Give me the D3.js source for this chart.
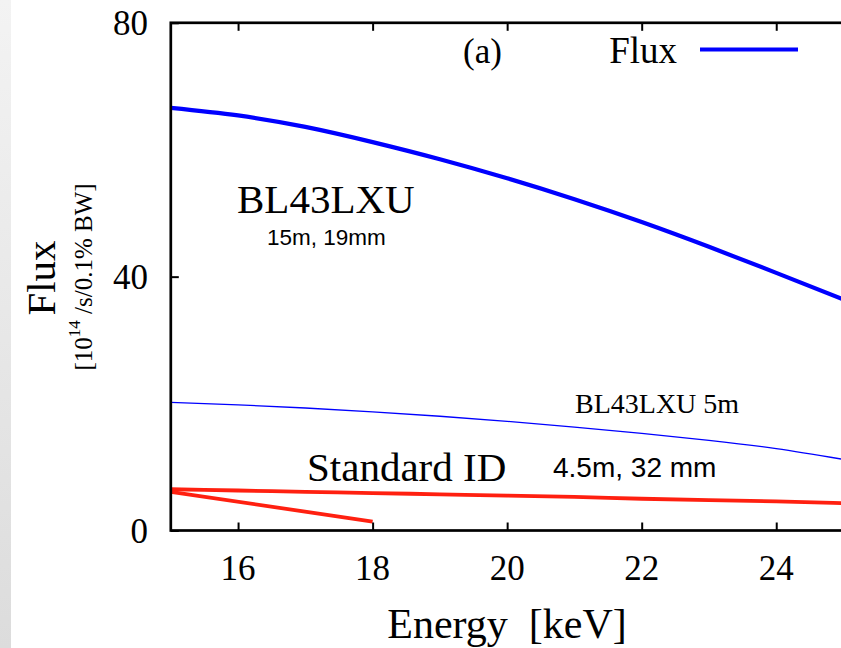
<!DOCTYPE html>
<html>
<head>
<meta charset="utf-8">
<script src="https://cdn.jsdelivr.net/npm/d3@7"></script>
<style>
  html, body { margin: 0; padding: 0; background: #fff; }
  svg { display: block; }
</style>
</head>
<body>
<svg id="chart" width="841" height="648"></svg>
<script>
// Photon energy grid [keV]
const energy = [15, 16, 17, 18, 19, 20, 21, 22, 23, 24, 25];
// Flux [10^14 /s/0.1% BW]
const fluxLXU15m = [66.6, 65.4, 63.6, 61.2, 58.5, 55.5, 52.2, 48.6, 44.7, 40.6, 36.4];
const fluxLXU5m  = [20.2, 19.8, 19.3, 18.7, 18.0, 17.2, 16.3, 15.3, 14.2, 12.9, 11.2];
const fluxStdID  = [6.5, 6.3, 6.1, 5.9, 5.7, 5.5, 5.3, 5.0, 4.8, 4.6, 4.3];
// Short standard-ID curve (15–18 keV)
const energyStdShort = [15, 18];
const fluxStdShort   = [6.1, 1.4];

const xTicks = [16, 18, 20, 22, 24];
const yTicks = [0, 40, 80];

const svg = d3.select("#chart");
const W = 841, H = 648;

// Grey strip at the left edge
const defs = svg.append("defs");
const grad = defs.append("linearGradient").attr("id", "strip")
  .attr("x1", 0).attr("y1", 0).attr("x2", 0).attr("y2", 1);
grad.append("stop").attr("offset", 0).attr("stop-color", "#f3f3f3");
grad.append("stop").attr("offset", 1).attr("stop-color", "#dcdcdc");
svg.append("rect").attr("x", 0).attr("y", 0).attr("width", 11).attr("height", H)
  .attr("fill", "url(#strip)");

const x = d3.scaleLinear().domain([15, 25]).range([170.8, 843.5]);
const y = d3.scaleLinear().domain([0, 80]).range([530.5, 22.8]);

const serif = "'Liberation Serif', 'Times New Roman', serif";
const sans = "'Liberation Sans', Arial, sans-serif";

defs.append("clipPath").attr("id", "plot")
  .append("rect")
  .attr("x", x(15)).attr("y", y(80))
  .attr("width", x(25) - x(15)).attr("height", y(0) - y(80));

// Curves
const line = (xs, ys, curve) => d3.line()
  .x((d, i) => x(xs[i]))
  .y(d => y(d))
  .curve(curve)(ys);

const curves = svg.append("g").attr("clip-path", "url(#plot)");
curves.append("path")
  .attr("d", line(energy, fluxLXU5m, d3.curveNatural))
  .attr("fill", "none").attr("stroke", "#0000ff").attr("stroke-width", 1.3);
curves.append("path")
  .attr("d", line(energy, fluxStdID, d3.curveNatural))
  .attr("fill", "none").attr("stroke", "#ff2010").attr("stroke-width", 3.8);
curves.append("path")
  .attr("d", line(energyStdShort, fluxStdShort, d3.curveLinear))
  .attr("fill", "none").attr("stroke", "#ff2010").attr("stroke-width", 3.8);
curves.append("path")
  .attr("d", line(energy, fluxLXU15m, d3.curveNatural))
  .attr("fill", "none").attr("stroke", "#0000ff").attr("stroke-width", 4.2);

// Frame with inward ticks
const tickLen = 8;
const frame = svg.append("g").attr("stroke", "#000");
frame.append("rect")
  .attr("x", x(15)).attr("y", y(80))
  .attr("width", x(25) - x(15)).attr("height", y(0) - y(80))
  .attr("fill", "none").attr("stroke-width", 2.7);

const axB = d3.axisBottom(x).tickValues(xTicks).tickSize(-tickLen).tickFormat("");
const axT = d3.axisTop(x).tickValues(xTicks).tickSize(-tickLen).tickFormat("");
const axL = d3.axisLeft(y).tickValues(yTicks).tickSize(-tickLen).tickFormat("");
[[axB, `translate(0,${y(0)})`], [axT, `translate(0,${y(80)})`], [axL, `translate(${x(15)},0)`]]
  .forEach(([ax, tr]) => {
    const g = svg.append("g").attr("transform", tr).call(ax);
    g.select(".domain").remove();
    g.selectAll(".tick line").attr("stroke", "#000").attr("stroke-width", 2);
  });

// Tick labels
svg.append("g").selectAll("text").data(xTicks).join("text")
  .attr("x", d => x(d)).attr("y", 580)
  .attr("text-anchor", "middle")
  .attr("font-family", serif).attr("font-size", 35).attr("fill", "#000")
  .text(d => d);
svg.append("g").selectAll("text").data(yTicks).join("text")
  .attr("x", 148).attr("y", d => y(d)).attr("dy", "0.35em")
  .attr("text-anchor", "end")
  .attr("font-family", serif).attr("font-size", 35).attr("fill", "#000")
  .text(d => d);

// Axis titles
svg.append("text")
  .attr("x", 507).attr("y", 638).attr("text-anchor", "middle")
  .attr("font-family", serif).attr("font-size", 42).attr("fill", "#000")
  .attr("xml:space", "preserve")
  .text("Energy  [keV]");

svg.append("text")
  .attr("transform", "translate(55,278) rotate(-90)")
  .attr("text-anchor", "middle")
  .attr("font-family", serif).attr("font-size", 41).attr("fill", "#000")
  .text("Flux");

const unit = svg.append("text")
  .attr("transform", "translate(92,277) rotate(-90)")
  .attr("text-anchor", "middle")
  .attr("font-family", serif).attr("font-size", 25).attr("fill", "#000");
unit.append("tspan").text("[10");
unit.append("tspan").attr("font-size", 17).attr("dy", -12).text("14");
unit.append("tspan").attr("dy", 12).text(" /s/0.1% BW]");

// Panel label and key
svg.append("text")
  .attr("x", 463).attr("y", 63)
  .attr("font-family", serif).attr("font-size", 35).attr("fill", "#000")
  .text("(a)");
svg.append("text")
  .attr("x", 677).attr("y", 63).attr("text-anchor", "end")
  .attr("font-family", serif).attr("font-size", 37).attr("fill", "#000")
  .text("Flux");
svg.append("line")
  .attr("x1", 700).attr("x2", 798).attr("y1", 49.5).attr("y2", 49.5)
  .attr("stroke", "#0000ff").attr("stroke-width", 4.2);

// Curve annotations
svg.append("text")
  .attr("x", 237).attr("y", 213)
  .attr("font-family", serif).attr("font-size", 41).attr("fill", "#000")
  .text("BL43LXU");
svg.append("text")
  .attr("x", 267).attr("y", 245)
  .attr("font-family", sans).attr("font-size", 22.5).attr("fill", "#000")
  .text("15m, 19mm");
svg.append("text")
  .attr("x", 575).attr("y", 413)
  .attr("font-family", serif).attr("font-size", 28).attr("fill", "#000")
  .text("BL43LXU 5m");
svg.append("text")
  .attr("x", 307).attr("y", 481)
  .attr("font-family", serif).attr("font-size", 41).attr("fill", "#000")
  .text("Standard ID");
svg.append("text")
  .attr("x", 553).attr("y", 477)
  .attr("font-family", sans).attr("font-size", 28).attr("fill", "#000")
  .text("4.5m, 32 mm");
</script>
</body>
</html>
